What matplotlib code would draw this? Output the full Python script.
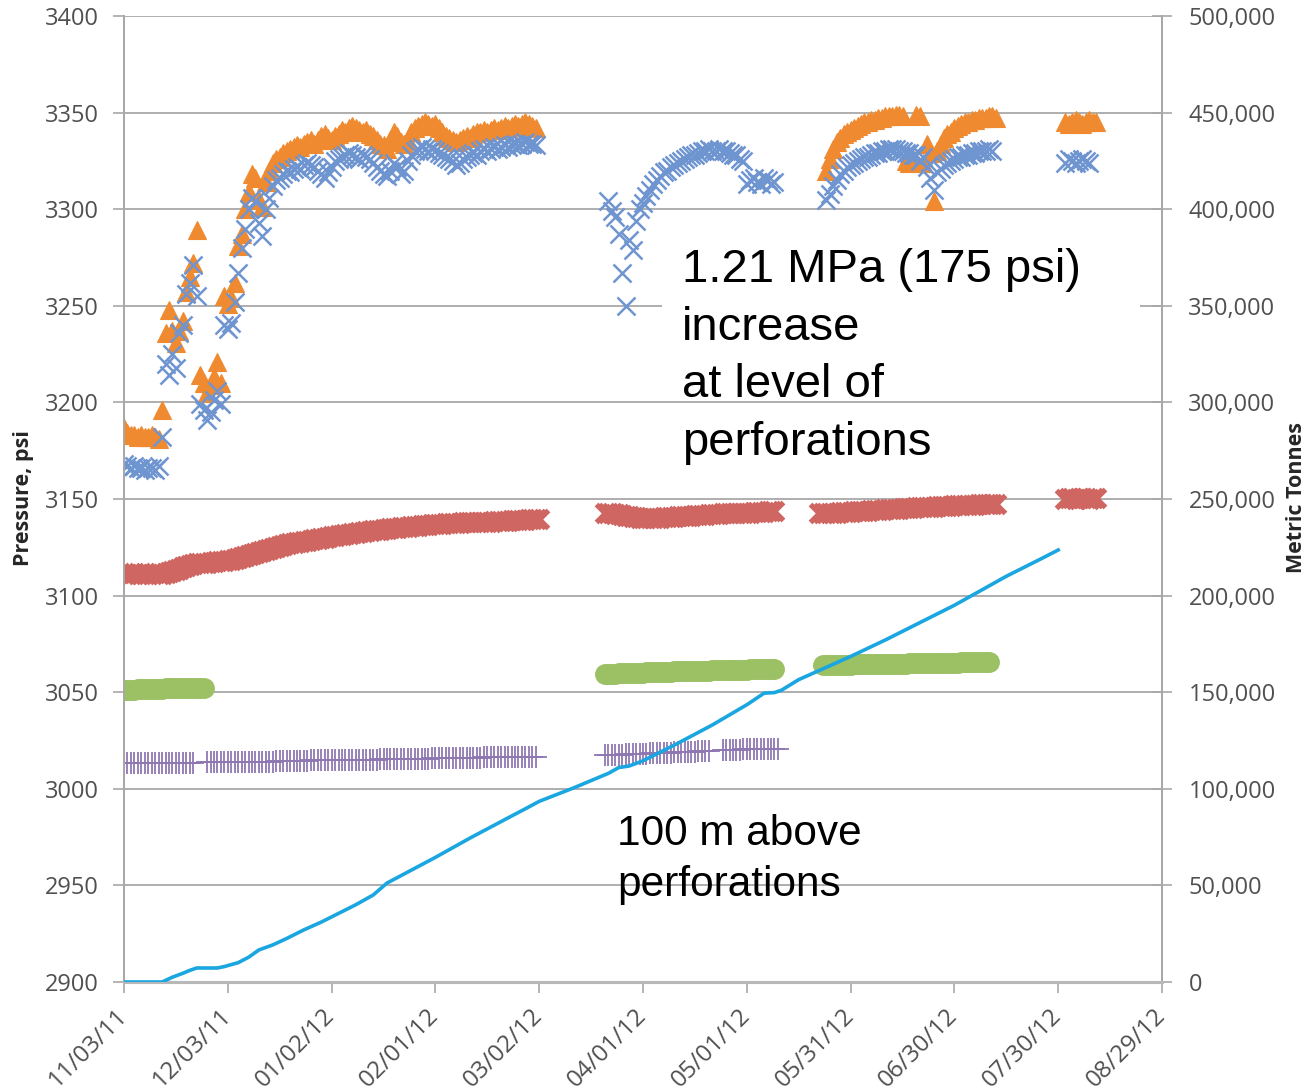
import matplotlib
matplotlib.use("Agg")
import matplotlib.pyplot as plt
import matplotlib.dates as mdates
from matplotlib.patches import Rectangle
import pandas as pd
import numpy as np

# ---------------- data (daily readings; each segment: start date + daily values) ----------------
orange_segments = [
    ("2011-11-03", [3187, 3184, 3183, 3183, 3182, 3183, 3182, 3182, 3183, 3182, 3181,
                    3196, 3236, 3248, 3237, 3231, 3237, 3242, 3257, 3265, 3272, 3289,
                    3214, 3210, 3205, 3209, 3213, 3221, 3210, 3255, 3251, 3254,
                    3262, 3281, 3287, 3300, 3309, 3318, 3316, 3305, 3301, 3314,
                    3320, 3324, 3326, 3327, 3329, 3330, 3331, 3332, 3333,
                    3332, 3334, 3335, 3336, 3334, 3336, 3338, 3339, 3337, 3336,
                    3338, 3339, 3341, 3340, 3342, 3343, 3342, 3341, 3340, 3341,
                    3339, 3338, 3336, 3334, 3333, 3331, 3336, 3340, 3338, 3335,
                    3334, 3336, 3340, 3342, 3343, 3344, 3345, 3344, 3343, 3344,
                    3342, 3340, 3338, 3337, 3336, 3335, 3336, 3337, 3338, 3337,
                    3339, 3340, 3340, 3341, 3340, 3341, 3342, 3341, 3342, 3343,
                    3342, 3343, 3344, 3343, 3344, 3345, 3344, 3343, 3342]),
    ("2012-05-24", [3320, 3326, 3331, 3335, 3337, 3339, 3340, 3341, 3342, 3343,
                    3344, 3345, 3345, 3346, 3346, 3347, 3347, 3348, 3348, 3348,
                    3349, 3349, 3348, 3325, 3324, 3326, 3349, 3348, 3324, 3334,
                    3329, 3304, 3330, 3334, 3337, 3339, 3340, 3342, 3343, 3344,
                    3345, 3345, 3346, 3346, 3347, 3347, 3347, 3348, 3348, 3347]),
    ("2012-08-01", [3345, 3344, 3345, 3346, 3345, 3344, 3345, 3346, 3345, 3345]),
]

blue_segments = [
    ("2011-11-03", [3168, 3167, 3166, 3167, 3166, 3166, 3165, 3166, 3166, 3165, 3167,
                    3182, 3220, 3214, 3225, 3218, 3236, 3240, 3256, 3262, 3271, 3255,
                    3199, 3196, 3191, 3195, 3201, 3206, 3199, 3240, 3238, 3241,
                    3252, 3267, 3280, 3290, 3300, 3306, 3304, 3293, 3286, 3300,
                    3306, 3312, 3315, 3316, 3318, 3320, 3319, 3321, 3322,
                    3321, 3323, 3324, 3323, 3322, 3320, 3318, 3316, 3319, 3322,
                    3325, 3326, 3327, 3328, 3329, 3328, 3327, 3326, 3328, 3327,
                    3326, 3324, 3322, 3320, 3318, 3317, 3320, 3324, 3322, 3318,
                    3320, 3325, 3328, 3330, 3331, 3332, 3331, 3330, 3331, 3330,
                    3329, 3328, 3327, 3326, 3325, 3323, 3324, 3326, 3327, 3328,
                    3329, 3328, 3330, 3331, 3330, 3331, 3332, 3331, 3332, 3333,
                    3332, 3333, 3334, 3333, 3334, 3335, 3334, 3334, 3333]),
    ("2012-03-22", [3304, 3299, 3296, 3287, 3267, 3250, 3284, 3279, 3294, 3300,
                    3303, 3307, 3310, 3313, 3315, 3317, 3319, 3320, 3322, 3323,
                    3324, 3325, 3326, 3327, 3328, 3328, 3329, 3330, 3330, 3331,
                    3330, 3330, 3331, 3330, 3330, 3329, 3328, 3328, 3326, 3325,
                    3313, 3315, 3316, 3314, 3313, 3316, 3315, 3313, 3314]),
    ("2012-05-24", [3305, 3308, 3312, 3315, 3318, 3320, 3322, 3323, 3324, 3325,
                    3326, 3327, 3327, 3328, 3329, 3329, 3330, 3330, 3331, 3331,
                    3331, 3330, 3330, 3329, 3329, 3328, 3328, 3325, 3327, 3322,
                    3316, 3310, 3319, 3321, 3323, 3324, 3325, 3326, 3327, 3327,
                    3328, 3328, 3329, 3329, 3330, 3330, 3330, 3331, 3330]),
    ("2012-08-01", [3324, 3326, 3325, 3324, 3325, 3326, 3325, 3324]),
]

red_segments = [
    ("2011-11-03", [3111.5, 3111, 3111, 3111.5, 3111, 3111, 3111.5, 3111, 3111, 3111.5, 3111, 3111,
                    3111.5, 3112, 3112.5, 3113, 3114, 3115, 3115.5, 3116, 3116.5, 3117, 3117,
                    3117, 3117, 3117.5, 3117.5, 3118, 3118, 3118, 3118.5, 3118.5, 3119, 3119.5,
                    3120, 3120.5, 3121, 3121.5, 3122, 3122.5, 3123, 3123.5, 3124, 3124.5, 3125, 3125.5,
                    3126, 3126.5, 3127, 3127, 3127.5, 3128, 3128.5, 3128.5, 3129, 3129.5, 3129.5, 3130,
                    3130, 3130.5, 3131,
                    3131, 3131.5, 3131.5, 3132, 3132, 3132.5, 3132.5, 3133, 3133, 3133.5, 3133.5, 3134,
                    3134, 3134,
                    3134.5, 3134.5, 3135, 3135, 3135, 3135.5, 3135.5, 3135.5, 3136, 3136, 3136, 3136.5,
                    3136.5, 3136.5,
                    3137, 3137, 3137, 3137, 3137.5, 3137.5, 3137.5, 3137.5, 3137.5, 3138, 3138, 3138,
                    3138, 3138, 3138,
                    3138, 3138, 3138, 3138.5, 3138.5, 3138.5, 3138.5, 3138.5, 3139, 3139, 3139, 3139,
                    3139, 3139.5, 3139.5, 3139.5, 3139.5]),
    ("2012-03-21", [3143, 3142.5, 3142.5, 3142, 3142, 3141.5, 3141, 3141, 3140.5, 3140.5,
                    3140, 3140, 3140, 3140, 3140, 3140, 3140, 3140.5, 3140.5, 3140.5,
                    3140.5, 3141, 3141, 3141, 3141, 3141, 3141.5, 3141.5, 3141.5, 3141.5,
                    3142, 3142, 3142, 3142, 3142.5, 3142.5, 3142.5, 3142.5, 3143, 3143,
                    3143, 3143, 3143, 3143.5, 3143.5, 3143.5, 3143.5, 3144, 3144, 3144]),
    ("2012-05-22", [3143, 3143, 3143, 3143, 3143, 3143, 3143.5, 3143.5, 3143.5, 3143.5,
                    3144, 3144, 3144, 3144, 3144, 3144.5, 3144.5, 3144.5, 3144.5, 3145,
                    3145, 3145, 3145, 3145, 3145.5, 3145.5, 3145.5, 3145.5, 3146, 3146,
                    3146, 3146, 3146, 3146, 3146.5, 3146.5, 3146.5, 3146.5, 3146.5, 3147,
                    3147, 3147, 3147, 3147, 3147, 3147, 3147.5, 3147.5, 3147.5, 3147.5,
                    3147.5, 3147.5]),
    ("2012-08-01", [3150, 3150.5, 3150.5, 3150, 3150.5, 3150.5, 3150.5, 3150, 3150.5, 3150.5]),
]

green_segments = [
    ("2011-11-03", [3051, 3051, 3051, 3051, 3051.5, 3051.5, 3051.5, 3051.5, 3051.5, 3051.5,
                    3051.5, 3051.5, 3052, 3052, 3052, 3052, 3052, 3052, 3052, 3052,
                    3052, 3052, 3052, 3052]),
    ("2012-03-21", [3059.5, 3059.5, 3059.5, 3059.5, 3060, 3060, 3060, 3060, 3060, 3060,
                    3060, 3060, 3060.5, 3060.5, 3060.5, 3060.5, 3060.5, 3060.5, 3060.5, 3060.5,
                    3061, 3061, 3061, 3061, 3061, 3061, 3061, 3061, 3061, 3061,
                    3061, 3061.5, 3061.5, 3061.5, 3061.5, 3061.5, 3061.5, 3061.5, 3061.5, 3061.5,
                    3061.5, 3061.5, 3062, 3062, 3062, 3062, 3062, 3062, 3062, 3062]),
    ("2012-05-23", [3064, 3064, 3064, 3064, 3064, 3064, 3064, 3064, 3064, 3064.5,
                    3064.5, 3064.5, 3064.5, 3064.5, 3064.5, 3064.5, 3064.5, 3064.5, 3064.5, 3064.5,
                    3064.5, 3064.5, 3064.5, 3064.5, 3064.5, 3065, 3065, 3065, 3065, 3065,
                    3065, 3065, 3065, 3065, 3065, 3065, 3065, 3065, 3065, 3065,
                    3065.5, 3065.5, 3065.5, 3065.5, 3065.5, 3065.5, 3065.5, 3065.5, 3065.5]),
]

purple_segments = [
    ("2011-11-03", [3013.5, 3013.5, 3013.5, 3013.5, 3013.5, 3013.5, 3013.5, 3013.5, 3013.5, 3013.5,
                    3013.5, 3013.5, 3013.5, 3013.5, 3013.5, 3013.5, 3013.5, 3013.5, 3013.5, 3013.5,
                    3013.5]),
    ("2011-11-27", [3014, 3014, 3014, 3014, 3014, 3014, 3014, 3014, 3014, 3014,
                    3014, 3014, 3014, 3014, 3014, 3014, 3014, 3014, 3014, 3014,
                    3014.5, 3014.5, 3014.5, 3014.5, 3014.5, 3014.5, 3014.5, 3014.5, 3014.5, 3014.5,
                    3015, 3015, 3015, 3015, 3015, 3015, 3015, 3015, 3015, 3015,
                    3015, 3015, 3015, 3015, 3015, 3015, 3015, 3015, 3015, 3015,
                    3015.5, 3015.5, 3015.5, 3015.5, 3015.5, 3015.5, 3015.5, 3015.5, 3015.5, 3015.5,
                    3015.5, 3015.5, 3015.5, 3015.5, 3015.5, 3016, 3016, 3016, 3016, 3016,
                    3016, 3016, 3016, 3016, 3016, 3016, 3016, 3016, 3016, 3016,
                    3016.5, 3016.5, 3016.5, 3016.5, 3016.5, 3016.5, 3016.5, 3016.5, 3016.5, 3016.5,
                    3016.5, 3016.5, 3016.5, 3016.5, 3016.5, 3016.5]),
    ("2012-03-21", [3017.5, 3017.5, 3017.5, 3017.5, 3017.5, 3017.5, 3018, 3018, 3018, 3018,
                    3018, 3018, 3018, 3018.5, 3018.5, 3018.5, 3018.5, 3018.5, 3018.5, 3018.5,
                    3019, 3019, 3019, 3019, 3019, 3019, 3019, 3019.5, 3019.5, 3019.5,
                    3019.5]),
    ("2012-04-24", [3020, 3020, 3020, 3020, 3020, 3020, 3020.5, 3020.5, 3020.5, 3020.5,
                    3020.5, 3020.5, 3020.5, 3020.5, 3020.5, 3020.5, 3020.5]),
]

# cumulative injected mass (metric tonnes), right axis
mass_dates = ["2011-11-03", "2011-11-14", "2011-11-17", "2011-11-20", "2011-11-22", "2011-11-24",
              "2011-11-30", "2011-12-02", "2011-12-06", "2011-12-09", "2011-12-12", "2011-12-16",
              "2011-12-20", "2011-12-25", "2011-12-30", "2012-01-04", "2012-01-09", "2012-01-14",
              "2012-01-18", "2012-01-22", "2012-02-01", "2012-02-11", "2012-02-21", "2012-02-28",
              "2012-03-02", "2012-03-12", "2012-03-22", "2012-03-25", "2012-03-28", "2012-04-01",
              "2012-04-11", "2012-04-21", "2012-05-01", "2012-05-06", "2012-05-09", "2012-05-11",
              "2012-05-16", "2012-05-21", "2012-05-31", "2012-06-10", "2012-06-20", "2012-06-30",
              "2012-07-05", "2012-07-10", "2012-07-15", "2012-07-20", "2012-07-25", "2012-07-30"]
mass_tonnes = [0, 0, 2500, 4500, 6000, 7250,
               7250, 8000, 10000, 12800, 16600, 19200,
               22500, 27000, 31000, 35500, 40000, 45000,
               51200, 55000, 64500, 74500, 84000, 90600,
               93500, 100500, 108000, 111000, 111800, 114500,
               123500, 133000, 143500, 149500, 149800, 151000,
               156500, 160500, 168500, 177000, 186000, 195000,
               200000, 205000, 210000, 214500, 219000, 223600]

x_tick_labels = ["11/03/11", "12/03/11", "01/02/12", "02/01/12", "03/02/12", "04/01/12",
                 "05/01/12", "05/31/12", "06/30/12", "07/30/12", "08/29/12"]
left_ticks = [2900, 2950, 3000, 3050, 3100, 3150, 3200, 3250, 3300, 3350, 3400]
right_ticks = [0, 50000, 100000, 150000, 200000, 250000, 300000, 350000, 400000, 450000, 500000]

annotation_top = ["1.21 MPa (175 psi)", "increase", "at level of", "perforations"]
annotation_bottom = ["100 m above", "perforations"]

# ---------------- figure ----------------
W, H = 1309, 1092
fig = plt.figure(figsize=(W / 100, H / 100), dpi=100)
fig.patch.set_facecolor("white")

L, R, T, B = 124, 1162, 16, 982
ax = fig.add_axes([L / W, 1 - B / H, (R - L) / W, (B - T) / H])
ax2 = ax.twinx()


def seg_dates(start, vals):
    return pd.date_range(start, periods=len(vals), freq="D")


styles = [
    (orange_segments, dict(marker="^", ms=12.5, color="#EF8A30", mec="#EF8A30", mew=0.8)),
    (blue_segments, dict(marker="x", ms=12.5, color="#6F95D0", mew=1.8)),
    (red_segments, dict(marker="x", ms=12.5, color="#CF6662", mew=3.8)),
    (green_segments, dict(marker="o", ms=14, color="#9CC064", mec="#9CC064")),
    (purple_segments, dict(marker="+", ms=16, color="#8F78B2", mew=1.3)),
]
for segs, st in styles:
    for start, vals in segs:
        ax.plot(seg_dates(start, vals), vals, linestyle="none", zorder=3, **st)

ax2.plot(pd.to_datetime(mass_dates), mass_tonnes, color="#1AA6E0", lw=2.6, zorder=4,
         solid_joinstyle="round")

# axes limits / ticks
tick_dates = pd.to_datetime(x_tick_labels, format="%m/%d/%y")
ax.set_xlim(tick_dates[0], tick_dates[-1])
ax.set_ylim(2900, 3400)
ax2.set_ylim(0, 500000)
ax.set_xticks(tick_dates)
ax.set_xticklabels(x_tick_labels)
ax.set_yticks(left_ticks)
ax.set_yticklabels([str(v) for v in left_ticks])
ax2.set_yticks(right_ticks)
ax2.set_yticklabels([f"{v:,}" for v in right_ticks])

for lab in ax.get_yticklabels() + ax2.get_yticklabels():
    lab.set_fontfamily("Open Sans")
    lab.set_fontsize(17)
    lab.set_color("#505050")
for lab in ax.get_xticklabels():
    lab.set_fontfamily("Open Sans")
    lab.set_fontsize(17.5)
    lab.set_color("#505050")
    lab.set_rotation(45)
    lab.set_ha("right")
    lab.set_va("center")
    lab.set_rotation_mode("anchor")

grid_c = "#A8A8A8"
ax.yaxis.grid(True, color=grid_c, lw=1.3, zorder=0)
ax.set_axisbelow(True)
for a in (ax, ax2):
    a.spines["top"].set_visible(False)
    a.spines["left"].set_color(grid_c)
    a.spines["right"].set_color(grid_c)
    a.spines["bottom"].set_color("#B8B8B8")
    a.spines["left"].set_linewidth(1.3)
    a.spines["right"].set_linewidth(1.3)
    a.spines["bottom"].set_linewidth(2.2)
ax.tick_params(axis="y", direction="out", length=8, width=1.2, color=grid_c, pad=10)
ax.tick_params(axis="x", direction="out", length=8, width=1.2, color=grid_c, pad=14)
ax2.tick_params(axis="y", direction="inout", length=14, width=1.2, color=grid_c, pad=12)

# white patch hiding the gridline behind the annotation (as in the source image)
ax.add_patch(Rectangle(((662 - L) / (R - L), (B - 398) / (B - T)),
                       (1140 - 662) / (R - L), (398 - 212) / (B - T),
                       transform=ax.transAxes, facecolor="white", edgecolor="none", zorder=5))

# axis titles
fig.text(23 / W, 1 - 498 / H, "Pressure, psi", rotation=90, ha="center", va="center",
         fontsize=15.5, fontweight="bold", family="Open Sans", color="#262626")
fig.text(1297 / W, 1 - 498 / H, "Metric Tonnes", rotation=90, ha="center", va="center",
         fontsize=15.5, fontweight="bold", family="Open Sans", color="#262626")

# annotations
for i, line in enumerate(annotation_top):
    fig.text(682 / W, 1 - (282 + 57.5 * i) / H, line, ha="left", va="baseline",
             fontsize=34, family="Liberation Sans", color="black", zorder=10)
for i, line in enumerate(annotation_bottom):
    fig.text(617 / W, 1 - (845 + 51 * i) / H, line, ha="left", va="baseline",
             fontsize=30.5, family="Liberation Sans", color="black", zorder=10)

fig.savefig("out.png", dpi=100, facecolor="white")
